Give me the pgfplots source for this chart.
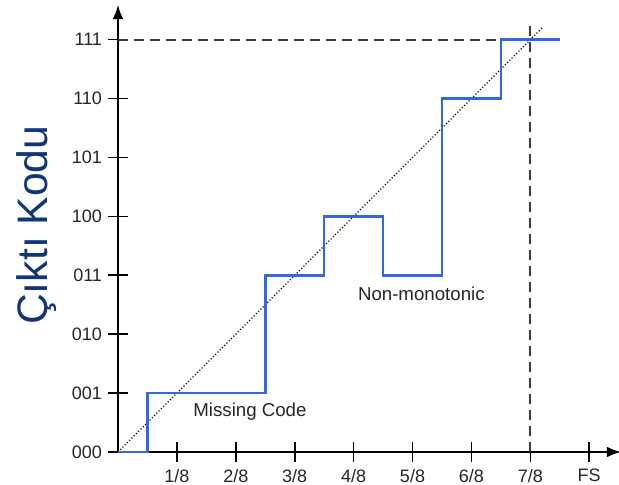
\documentclass[border=0pt]{standalone}
\usepackage{pgfplots}
\pgfplotsset{compat=1.18}
\usepackage{fontspec}
\setmainfont{Liberation Sans}
\usetikzlibrary{arrows.meta}
\definecolor{codeblue}{RGB}{18,52,120}
\definecolor{stepblue}{RGB}{52,104,222}
\definecolor{dashgray}{RGB}{60,60,60}

\begin{document}
\begin{tikzpicture}
    % 1 px of the reference = 0.75pt
    \useasboundingbox (0,0) rectangle (464.25pt,363.75pt);
    \begin{axis}[
            at={(88.5pt,24.75pt)},
            anchor=south west,
            x=44.175pt, y=44.175pt,
            xmin=0, xmax=8.55,
            ymin=0, ymax=7.6,
            axis x line=bottom,
            axis y line=left,
            axis line style={line width=2pt, -{Latex[length=11pt,width=8pt]}},
            clip=false,
            tick align=center,
            major tick length=15pt,
            tick style={line width=1.2pt, black},
            xtick={1,2,3,4,5,6,7,8},
            xticklabels={1/8,2/8,3/8,4/8,5/8,6/8,7/8,FS},
            ytick={0,1,2,3,4,5,6,7},
            yticklabels={000,001,010,011,100,101,110,111},
            ticklabel style={font=\fontsize{13.5}{15}\selectfont, text=black!85},
            xticklabel style={yshift=-2pt},
            yticklabel style={xshift=-1pt},
        ]
        % reference lines
        \addplot[dashgray, line width=1.5pt, dash pattern=on 7.5pt off 4.5pt]
            coordinates {(0,7) (7,7)};
        \addplot[dashgray, line width=1.5pt, dash pattern=on 7.5pt off 4.5pt]
            coordinates {(7,0) (7,7.33)};
        % ideal transfer line
        \addplot[black, line width=0.9pt, dash pattern=on 0.8pt off 1.6pt]
            coordinates {(0,0) (7.2,7.2)};
        % actual converter output
        \addplot[stepblue, line width=1.9pt]
            coordinates {
(0,0) (0.5,0) (0.5,1) (2.5,1) (2.5,3) (3.5,3) (3.5,4) (4.5,4)
(4.5,3) (5.5,3) (5.5,6) (6.5,6) (6.5,7) (7.5,7)
            };
        \node[font=\fontsize{14}{16}\selectfont, text=black!85] at (axis cs:2.24,0.68) {Missing Code};
        \node[font=\fontsize{14}{16}\selectfont, text=black!85] at (axis cs:5.15,2.68) {Non-monotonic};
        \node[rotate=90, anchor=base, inner sep=0pt, text=codeblue,
              font=\fontsize{32}{36}\selectfont] at (axis cs:-1.2,3.85) {Çıktı Kodu};
    \end{axis}
\end{tikzpicture}
\end{document}
